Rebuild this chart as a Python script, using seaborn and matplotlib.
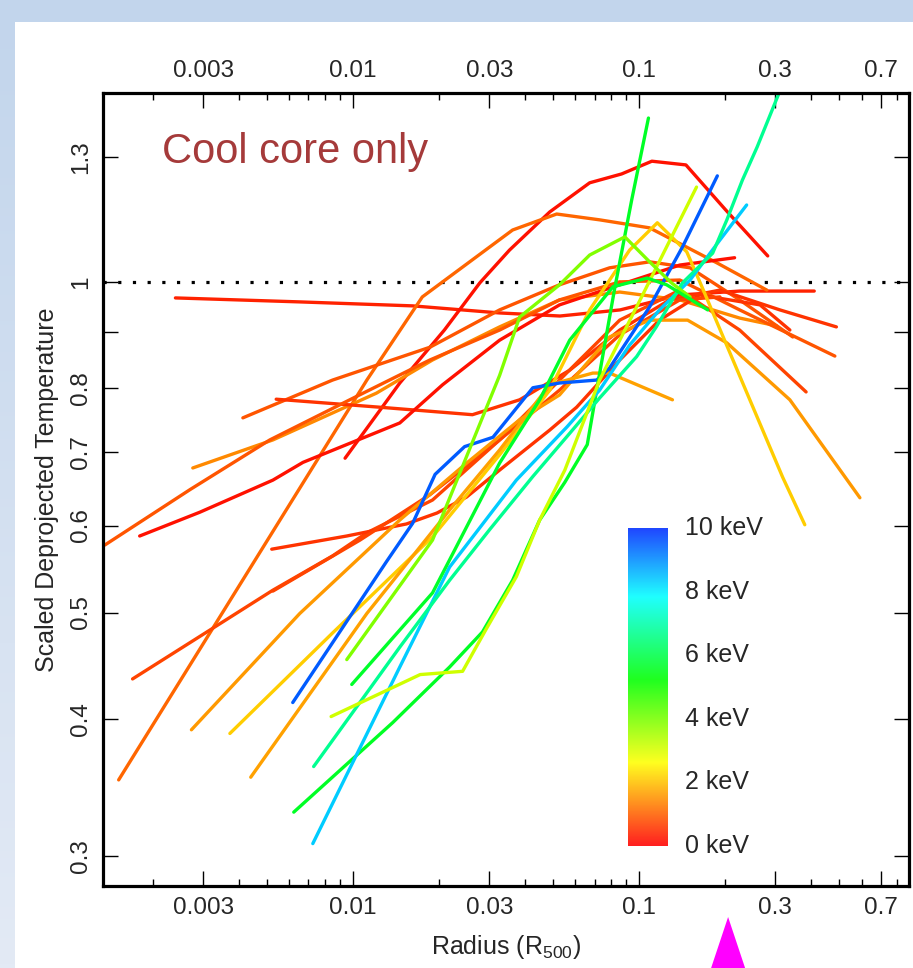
import numpy as np
import pandas as pd
import matplotlib
matplotlib.use("Agg")
import matplotlib.pyplot as plt
import matplotlib.colors as mcolors
from matplotlib.patches import Polygon, Rectangle
from matplotlib.ticker import FixedLocator, FixedFormatter, NullFormatter, NullLocator
import seaborn as sns

# ------------------------------------------------------------
# Scaled deprojected temperature profiles, cool-core clusters
# radius in R500, temperature scaled, kT = cluster mean temp (keV)
# ------------------------------------------------------------

kt_values = [0.35, 0.17, 1.04, 1.4, 0.87, 0.52, 0.17, 0.87, 0.7, 0.52, 0.7,
             1.57, 2.1, 1.65, 9.5, 5.6, 8.35, 6.7, 3.1, 3.9, 5.65]

r01 = [0.0024, 0.0065, 0.0162, 0.0326, 0.053, 0.086, 0.139, 0.225, 0.41]
t01 = [0.967, 0.959, 0.951, 0.937, 0.931, 0.943, 0.973, 0.981, 0.981]

r02 = [0.0094, 0.0146, 0.0209, 0.0278, 0.0353, 0.0488, 0.0673, 0.087, 0.111, 0.146, 0.201, 0.282]
t02 = [0.691, 0.809, 0.904, 0.998, 1.069, 1.158, 1.231, 1.254, 1.288, 1.278, 1.163, 1.056]

r03 = [0.00152, 0.0112, 0.0175, 0.0218, 0.0362, 0.0516, 0.0729, 0.109, 0.187, 0.28]
t03 = [0.352, 0.814, 0.969, 1.011, 1.115, 1.153, 1.139, 1.120, 1.041, 0.983]

r04 = [0.00276, 0.00526, 0.0121, 0.019, 0.0326, 0.0528, 0.0857, 0.139, 0.225, 0.303]
t04 = [0.677, 0.718, 0.792, 0.849, 0.91, 0.963, 0.979, 0.963, 0.927, 0.912]

r05 = [0.00413, 0.0085, 0.0186, 0.0326, 0.0528, 0.079, 0.109, 0.151, 0.225, 0.345]
t05 = [0.752, 0.814, 0.872, 0.943, 0.994, 1.03, 1.043, 1.03, 0.963, 0.891]

r06 = [0.0054, 0.0124, 0.0262, 0.0383, 0.0573, 0.0857, 0.128, 0.192, 0.311, 0.49]
t06 = [0.782, 0.769, 0.757, 0.781, 0.831, 0.904, 0.963, 0.983, 0.943, 0.91]

r07 = [0.0018, 0.00292, 0.00526, 0.0067, 0.0146, 0.0206, 0.0326, 0.0528, 0.0857, 0.139, 0.216]
t07 = [0.587, 0.617, 0.66, 0.685, 0.744, 0.806, 0.885, 0.953, 0.994, 1.036, 1.052]

r08 = [0.00136, 0.0027, 0.00513, 0.00976, 0.0186, 0.0326, 0.0528, 0.0857, 0.139, 0.225, 0.484]
t08 = [0.576, 0.647, 0.718, 0.781, 0.849, 0.904, 0.963, 1.0, 1.004, 0.943, 0.856]

r09 = [0.0017, 0.00317, 0.00526, 0.0085, 0.0112, 0.019, 0.0326, 0.0528, 0.0857, 0.139, 0.225, 0.384]
t09 = [0.435, 0.482, 0.524, 0.563, 0.591, 0.633, 0.718, 0.814, 0.923, 0.983, 0.904, 0.794]

r10 = [0.00521, 0.00953, 0.0154, 0.0197, 0.025, 0.0326, 0.0488, 0.0606, 0.0857, 0.118, 0.163, 0.265, 0.337]
t10 = [0.571, 0.587, 0.602, 0.616, 0.637, 0.674, 0.733, 0.769, 0.849, 0.923, 0.973, 0.953, 0.904]

r11 = [0.00526, 0.0106, 0.0186, 0.0326, 0.0528, 0.0857, 0.139, 0.192]
t11 = [0.523, 0.582, 0.64, 0.718, 0.797, 0.895, 0.963, 0.969]

r12 = [0.00273, 0.00653, 0.0146, 0.025, 0.0383, 0.0528, 0.079, 0.109, 0.148, 0.203, 0.337, 0.592]
t12 = [0.391, 0.499, 0.607, 0.684, 0.749, 0.789, 0.891, 0.923, 0.923, 0.88, 0.781, 0.636]

r13 = [0.00372, 0.0085, 0.019, 0.0326, 0.0488, 0.0673, 0.0928, 0.116, 0.147, 0.166, 0.318, 0.38]
t13 = [0.388, 0.479, 0.586, 0.696, 0.797, 0.943, 1.069, 1.132, 1.065, 0.99, 0.664, 0.601]

r14 = [0.0044, 0.0112, 0.0218, 0.0326, 0.0488, 0.069, 0.079, 0.131]
t14 = [0.354, 0.499, 0.62, 0.703, 0.806, 0.826, 0.826, 0.781]

r15 = [0.00617, 0.0131, 0.0162, 0.0194, 0.0246, 0.0309, 0.0426, 0.0528, 0.0712, 0.079, 0.109, 0.142, 0.188]
t15 = [0.414, 0.556, 0.603, 0.668, 0.708, 0.722, 0.801, 0.809, 0.814, 0.835, 0.949, 1.076, 1.249]

r16 = [0.00622, 0.0138, 0.0218, 0.0284, 0.0362, 0.045, 0.0551, 0.066, 0.0712, 0.0821, 0.0944, 0.108]
t16 = [0.329, 0.397, 0.446, 0.48, 0.535, 0.607, 0.657, 0.711, 0.797, 0.983, 1.188, 1.41]

r17 = [0.00725, 0.0146, 0.0218, 0.0373, 0.0561, 0.0729, 0.0928, 0.118, 0.151, 0.192, 0.238]
t17 = [0.308, 0.446, 0.55, 0.66, 0.738, 0.797, 0.876, 0.943, 1.004, 1.092, 1.175]

r18 = [0.0073, 0.0146, 0.0218, 0.0301, 0.0426, 0.0573, 0.0729, 0.0982, 0.115, 0.142, 0.181, 0.203, 0.23, 0.259, 0.32]
t18 = [0.362, 0.465, 0.535, 0.595, 0.665, 0.728, 0.784, 0.855, 0.91, 0.998, 1.062, 1.139, 1.238, 1.327, 1.52]

r19 = [0.0084, 0.0172, 0.0242, 0.0294, 0.0373, 0.045, 0.0551, 0.0729, 0.101, 0.159]
t19 = [0.402, 0.439, 0.442, 0.484, 0.539, 0.607, 0.674, 0.814, 0.963, 1.22]

r20 = [0.00953, 0.019, 0.0326, 0.0383, 0.0528, 0.0673, 0.0893, 0.109, 0.13, 0.151]
t20 = [0.453, 0.582, 0.822, 0.929, 0.994, 1.058, 1.099, 1.043, 0.998, 0.969]

r21 = [0.00992, 0.019, 0.0326, 0.045, 0.0573, 0.0812, 0.107, 0.125, 0.174]
t21 = [0.43, 0.521, 0.684, 0.781, 0.885, 0.99, 1.008, 0.994, 0.943]

radii = [r01, r02, r03, r04, r05, r06, r07, r08, r09, r10, r11,
         r12, r13, r14, r15, r16, r17, r18, r19, r20, r21]
temps = [t01, t02, t03, t04, t05, t06, t07, t08, t09, t10, t11,
         t12, t13, t14, t15, t16, t17, t18, t19, t20, t21]

x_major = [0.003, 0.01, 0.03, 0.1, 0.3, 0.7]
x_major_labels = ["0.003", "0.01", "0.03", "0.1", "0.3", "0.7"]
x_minor = [0.002, 0.004, 0.005, 0.006, 0.007, 0.008, 0.009,
           0.02, 0.04, 0.05, 0.06, 0.07, 0.08, 0.09,
           0.2, 0.4, 0.5, 0.6, 0.8]
y_major = [0.3, 0.4, 0.5, 0.6, 0.7, 0.8, 0.9, 1.0, 1.3]
y_major_labels = ["0.3", "0.4", "0.5", "0.6", "0.7", "0.8", "", "1", "1.3"]
cbar_ticks = [0, 2, 4, 6, 8, 10]
marker_radius = 0.205   # magenta arrow below the axis


def kt_color(kt):
    """rainbow: red at 0 keV -> blue at 10 keV (hue 0 -> 230 deg)"""
    h = np.clip(kt, 0, 10) * 23.0 / 360.0
    return mcolors.hsv_to_rgb((h, 1.0, 1.0))


def main():
    sns.set_theme(style="ticks")
    plt.rcParams["font.family"] = ["Liberation Sans", "DejaVu Sans"]
    plt.rcParams["mathtext.fontset"] = "custom"
    plt.rcParams["mathtext.rm"] = "Liberation Sans"

    rows = []
    for i, (r, t) in enumerate(zip(radii, temps)):
        for rv, tv in zip(r, t):
            rows.append((f"c{i:02d}", rv, tv))
    df = pd.DataFrame(rows, columns=["cluster", "radius", "temp"])
    palette = {f"c{i:02d}": kt_color(k) for i, k in enumerate(kt_values)}

    fig = plt.figure(figsize=(9.13, 9.68), dpi=100)

    # light blue slide background with white panel
    bg = fig.add_axes([0, 0, 1, 1], zorder=-10)
    grad = np.linspace(0, 1, 256).reshape(-1, 1)
    bg_cmap = mcolors.LinearSegmentedColormap.from_list("bg", ["#c2d5ec", "#e3eaf5"])
    bg.imshow(grad, aspect="auto", cmap=bg_cmap, extent=[0, 1, 0, 1], origin="upper")
    bg.add_patch(Rectangle((15 / 913, 0), 1, 1 - 22 / 968, color="white", lw=0))
    bg.set_xlim(0, 1)
    bg.set_ylim(0, 1)
    bg.axis("off")

    ax = fig.add_axes([103 / 913, 82 / 968, 806 / 913, 793 / 968])
    ax.set_xscale("log")
    ax.set_yscale("log")

    ax.axhline(1.0, color="black", lw=2.3, ls=(0, (1, 3.6)),
               dash_capstyle="butt", zorder=1.5)

    sns.lineplot(data=df, x="radius", y="temp", hue="cluster", palette=palette,
                 estimator=None, sort=False, legend=False, lw=2.4, ax=ax)

    ax.set_xlim(0.00134, 0.879)
    ax.set_ylim(0.2818, 1.486)

    ax.xaxis.set_major_locator(FixedLocator(x_major))
    ax.xaxis.set_major_formatter(FixedFormatter(x_major_labels))
    ax.xaxis.set_minor_locator(FixedLocator(x_minor))
    ax.xaxis.set_minor_formatter(NullFormatter())
    ax.yaxis.set_major_locator(FixedLocator(y_major))
    ax.yaxis.set_major_formatter(FixedFormatter(y_major_labels))
    ax.yaxis.set_minor_locator(NullLocator())

    ax.tick_params(axis="both", which="major", direction="in", length=11,
                   width=1.0, labelsize=17.5, pad=8, color="black")
    ax.tick_params(axis="both", which="minor", direction="in", length=5,
                   width=1.0, color="black")
    ax.tick_params(axis="x", which="both", top=True, bottom=True,
                   labeltop=True, labelbottom=True)
    ax.tick_params(axis="y", which="both", left=True, right=True,
                   labelleft=True, labelright=False, labelrotation=90)
    for lbl in ax.get_yticklabels():
        lbl.set_va("center")

    for s in ax.spines.values():
        s.set_linewidth(2.3)
        s.set_color("black")

    ax.set_xlabel(r"Radius (R$_{\mathrm{500}}$)", fontsize=18, labelpad=10)
    ax.set_ylabel("Scaled Deprojected Temperature", fontsize=18, labelpad=8)

    ax.text(0.073, 0.912, "Cool core only", transform=ax.transAxes,
            fontsize=30, color="#a53a3a", va="baseline", ha="left")

    # inset temperature colour bar
    cax = fig.add_axes([628 / 913, 122 / 968, 40 / 913, 318 / 968])
    cmap = mcolors.ListedColormap([kt_color(v) for v in np.linspace(0, 10, 256)])
    cax.imshow(np.linspace(0, 10, 256).reshape(-1, 1), aspect="auto", cmap=cmap,
               origin="lower", extent=[0, 1, 0, 10], alpha=0.88)
    cax.set_xlim(0, 1)
    cax.set_ylim(0, 10)
    cax.axis("off")
    for v in cbar_ticks:
        cax.text(1.43, v, f"{v} keV", fontsize=18, va="center", ha="left",
                 transform=cax.get_yaxis_transform())

    # magenta marker below the radius axis
    fig.canvas.draw()
    xpix = ax.transData.transform((marker_radius, 1.0))[0]
    W = fig.bbox.width
    tri = Polygon([(xpix / W, 1 - 917 / 968),
                   ((xpix - 17) / W, 0.0),
                   ((xpix + 17) / W, 0.0)],
                  closed=True, transform=fig.transFigure, color="#ff00ff", lw=0)
    fig.add_artist(tri)

    fig.savefig("out.png", dpi=100)


if __name__ == "__main__":
    main()
